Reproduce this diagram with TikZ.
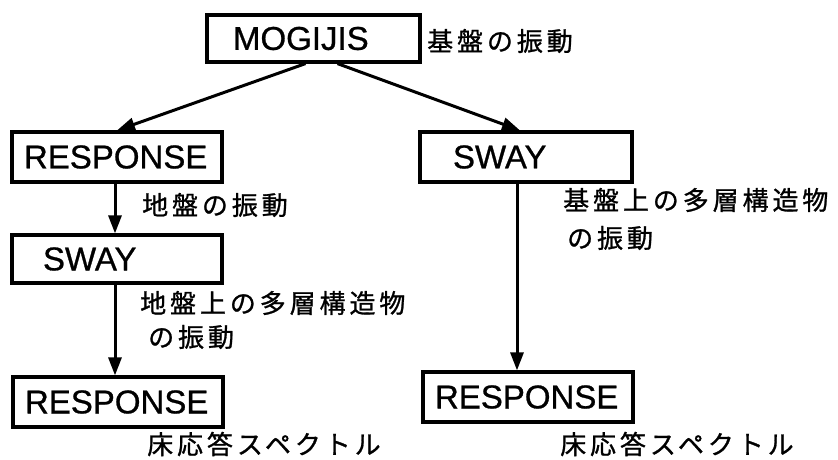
\documentclass[tikz,border=0pt]{standalone}
\usepackage{fontspec}
\setsansfont[FakeBold=0.8]{Liberation Sans}
\newfontfamily\cjk[LetterSpace=15,FakeBold=1]{Noto Sans CJK JP}
\usetikzlibrary{arrows.meta}
\begin{document}
\begin{tikzpicture}[x=1pt,y=-1pt,
  box/.style={draw,line width=3.2pt,inner sep=0pt,minimum height=#1,text width=210pt,align=left,font=\sffamily\fontsize{33}{36}\selectfont},
  lbl/.style={anchor=west,inner sep=0pt,font=\cjk\fontsize{26}{30}\selectfont},
  conn/.style={line width=3pt,-{Triangle[length=18pt,width=13pt]}}]
\useasboundingbox (0,0) rectangle (838,459);
\node[box=47pt,text width=213pt] (mog) at (313.5,38.5) {\hspace*{26pt}MOGIJIS};
\node[box=50pt] (resp1) at (117,157) {\hspace*{12pt}RESPONSE};
\node[box=48pt] (sway1) at (117,259) {\hspace*{31pt}SWAY};
\node[box=50pt] (resp2) at (118,402) {\hspace*{12pt}RESPONSE};
\node[box=50pt,text width=212pt] (sway2) at (526,157) {\hspace*{33pt}SWAY};
\node[box=50pt] (resp3) at (528,397) {\hspace*{12pt}RESPONSE};

\node[lbl] (l1) at (427,41) {基盤の振動};
\node[lbl] (l2) at (142,205) {地盤の振動};
\node[lbl] (l3) at (140,303) {地盤上の多層構造物};
\node[lbl] (l4) at (148,337) {の振動};
\node[lbl] (l5) at (147,444) {床応答スペクトル};
\node[lbl] (l6) at (563,200) {基盤上の多層構造物};
\node[lbl] (l7) at (567,238) {の振動};
\node[lbl] (l8) at (560,444) {床応答スペクトル};

\draw[conn] ([xshift=-8pt]mog.south) -- (resp1.north);
\draw[conn] ([xshift=24pt]mog.south) -- ([xshift=-6pt]sway2.north);
\draw[conn] ([xshift=-2pt]resp1.south) -- ([xshift=-2pt]sway1.north);
\draw[conn] ([xshift=-2pt]sway1.south) -- ([xshift=-3pt]resp2.north);
\draw[conn] ([xshift=-9pt]sway2.south) -- ([xshift=-9pt]sway2.south |- resp3.north);
\end{tikzpicture}
\end{document}
